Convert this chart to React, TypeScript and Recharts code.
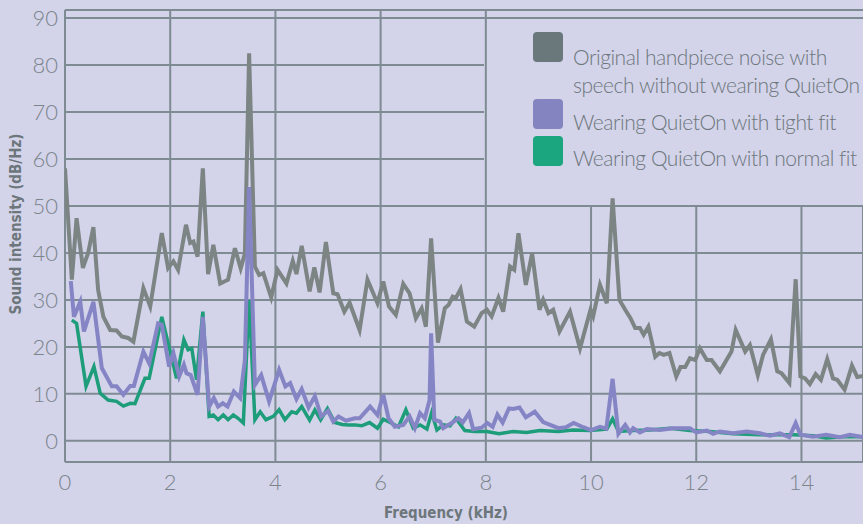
import React from "react";
import { LineChart, Line, XAxis, YAxis, CartesianGrid, Legend } from "recharts";

// frequency in kHz, intensity in dB/Hz
const grayFreq = [
  0, 0.13, 0.22, 0.34, 0.44, 0.54, 0.63, 0.73, 0.86, 0.98, 1.08, 1.2, 1.3, 1.49, 1.62, 1.84, 1.96, 2.06, 2.15, 2.3,
  2.38, 2.44, 2.52, 2.62, 2.72, 2.82, 2.95, 3.1, 3.23, 3.34, 3.42, 3.5, 3.61, 3.69, 3.77, 3.92, 4.04, 4.21, 4.33, 4.4,
  4.5, 4.65, 4.74, 4.84, 4.96, 5.1, 5.18, 5.31, 5.41, 5.6, 5.75, 5.94, 6.05, 6.16, 6.29, 6.43, 6.55, 6.67, 6.78, 6.86,
  6.96, 7.09, 7.22, 7.29, 7.37, 7.43, 7.52, 7.64, 7.78, 7.92, 8.02, 8.11, 8.24, 8.33, 8.46, 8.54, 8.62, 8.76, 8.88, 9.02,
  9.09, 9.19, 9.28, 9.4, 9.6, 9.79, 9.99, 10.04, 10.17, 10.3, 10.41, 10.54, 10.65, 10.75, 10.84, 10.93, 11, 11.09, 11.22, 11.3,
  11.38, 11.49, 11.62, 11.7, 11.79, 11.88, 11.98, 12.07, 12.2, 12.29, 12.45, 12.67, 12.75, 12.93, 13.02, 13.17, 13.27, 13.42, 13.54, 13.62,
  13.77, 13.89, 13.98, 14.07, 14.16, 14.27, 14.37, 14.49, 14.6, 14.68, 14.82, 14.96, 15.06, 15.17,
];
const grayDb = [
  58, 34.3, 47.4, 36.8, 40, 45.5, 32.1, 26.4, 23.6, 23.5, 22.2, 21.9, 21.1, 32.5, 28.6, 44.2, 36.8, 38.2, 36.4, 46,
  42.1, 42.4, 39.2, 58, 35.5, 41.7, 33.5, 34.3, 41, 36.7, 39.9, 82.5, 37.1, 35.3, 35.7, 30.5, 36.4, 33.5, 38.3, 35.5,
  41.5, 31.8, 36.9, 31.6, 42.3, 31.4, 31.2, 27.5, 29.4, 23.6, 34.3, 29.3, 33.9, 28.6, 26.8, 33.4, 31.4, 26.1, 28.2, 24.3,
  43.1, 20.9, 28.2, 28.9, 30.7, 30.4, 32.3, 25.4, 24.3, 27.2, 27.9, 26.5, 30.4, 27.5, 37.1, 36.4, 44.2, 33.2, 39.9, 27.9,
  30, 27.2, 27.9, 23.3, 27.5, 19.7, 27.9, 26.5, 33.2, 29.3, 51.6, 30, 27.9, 26.1, 24, 24, 22.6, 24.3, 17.9, 18.7,
  18.3, 18.7, 13.7, 15.7, 15.7, 17.6, 17.2, 19.7, 17.2, 17.2, 14.8, 19, 23.6, 19, 20.4, 14, 18.3, 21.6, 14.8, 14.4,
  12.3, 34.4, 13.7, 13.3, 12.1, 14.2, 13, 17.4, 13.3, 13, 10.9, 16, 13.6, 13.8,
];

const tightFreq = [
  0.11, 0.17, 0.29, 0.36, 0.54, 0.7, 0.89, 0.98, 1.11, 1.24, 1.31, 1.49, 1.6, 1.77, 1.84, 1.98, 2.06, 2.17, 2.26, 2.31,
  2.39, 2.52, 2.62, 2.74, 2.83, 2.91, 3.0, 3.09, 3.21, 3.33, 3.42, 3.5, 3.61, 3.73, 3.88, 4.07, 4.19, 4.28, 4.4, 4.5,
  4.63, 4.75, 4.87, 5.0, 5.1, 5.2, 5.34, 5.51, 5.6, 5.8, 5.94, 6.05, 6.15, 6.27, 6.43, 6.55, 6.65, 6.75, 6.84, 6.93,
  6.96, 7.02, 7.13, 7.19, 7.35, 7.48, 7.56, 7.68, 7.76, 7.92, 8.03, 8.13, 8.22, 8.32, 8.44, 8.52, 8.64, 8.76, 8.93, 9.09,
  9.38, 9.52, 9.67, 9.85, 10.0, 10.17, 10.29, 10.41, 10.52, 10.65, 10.74, 10.8, 10.93, 11.06, 11.31, 11.56, 11.88, 12.0, 12.2, 12.32,
  12.45, 12.7, 12.96, 13.21, 13.4, 13.59, 13.77, 13.89, 13.98, 14.22, 14.47, 14.73, 14.92, 15.17,
];
const tightDb = [
  34, 26.4, 29.6, 23.3, 29.6, 15.5, 11.6, 11.6, 9.8, 11.7, 11.7, 19, 16.5, 25, 24.7, 15.8, 18.7, 13.7, 16.2, 14.4,
  14, 9.8, 26.4, 7.3, 9.1, 7.3, 8, 7.3, 10.5, 9.1, 17.2, 54, 11.9, 14, 8.4, 15.1, 11.6, 12.3, 8.9, 11,
  7.1, 9.5, 5.2, 6.4, 4.1, 5.2, 4.3, 4.8, 4.8, 7.3, 5.5, 9.8, 4.8, 3, 3.4, 5.2, 2.7, 5.9, 4.8, 8.7,
  22.9, 4.5, 4.1, 2.7, 3.8, 4.8, 3.9, 5.9, 2.5, 2.8, 3.8, 3, 5.6, 3.9, 6.9, 6.8, 7.1, 5, 6.2, 4,
  2.7, 2.9, 3.8, 2.9, 2.3, 3, 2.6, 13.2, 1.5, 3.4, 1.8, 2.7, 1.8, 2.5, 2.3, 2.7, 2.7, 1.8, 2.2, 1.5,
  2, 1.6, 2, 1.6, 1.1, 1.6, 0.8, 3.8, 1.3, 0.9, 1.3, 0.8, 1.3, 0.8,
];

const normalFreq = [
  0.13, 0.22, 0.4, 0.55, 0.67, 0.82, 0.98, 1.11, 1.24, 1.33, 1.52, 1.6, 1.84, 2.0, 2.12, 2.26, 2.34, 2.41, 2.5, 2.62,
  2.74, 2.82, 2.91, 3.01, 3.1, 3.2, 3.29, 3.39, 3.5, 3.61, 3.71, 3.82, 3.96, 4.07, 4.18, 4.31, 4.4, 4.5, 4.65, 4.75,
  4.86, 4.99, 5.13, 5.27, 5.39, 5.51, 5.64, 5.79, 5.94, 6.05, 6.18, 6.34, 6.48, 6.62, 6.75, 6.88, 6.97, 7.07, 7.19, 7.32,
  7.43, 7.6, 7.79, 8.02, 8.25, 8.52, 8.77, 9.03, 9.38, 9.66, 9.98, 10.3, 10.41, 10.52, 10.8, 11.12, 11.5, 11.88, 12.26, 12.7,
  13.21, 13.5, 13.85, 14.22, 14.47, 14.84, 15.17,
];
const normalDb = [
  25.7, 25, 11.6, 15.8, 10.1, 8.7, 8.4, 7.4, 8, 7.9, 13.3, 13.3, 26.4, 19, 13.3, 21.5, 19.4, 19.7, 13, 27.5,
  5.2, 5.5, 4.5, 5.5, 4.5, 5.5, 4.8, 3.8, 30, 4.5, 6.2, 4.5, 5.2, 6.6, 4.5, 6.2, 5.9, 7.3, 4.4, 6.6,
  4.5, 6.9, 3.9, 3.5, 3.4, 3.4, 3.2, 3.9, 2.7, 4.6, 3.9, 3, 6.6, 2.7, 3.4, 2.5, 6, 2.3, 3.4, 3.2,
  4.8, 2.2, 2, 2, 1.5, 2, 1.8, 2.2, 2, 2.3, 2.2, 2.5, 4.7, 2, 2.2, 2.3, 2.7, 2.2, 2, 1.5,
  1.3, 1.3, 1.3, 1.1, 0.6, 0.9, 0.9,
];

const xTicks = [0, 2, 4, 6, 8, 10, 12, 14];
const yTicks = [0, 10, 20, 30, 40, 50, 60, 70, 80, 90];

const legendItems = [
  { color: "#6a777b", lines: ["Original handpiece noise with", "speech without wearing QuietOn"] },
  { color: "#8484c0", lines: ["Wearing QuietOn with tight fit"] },
  { color: "#1ba67f", lines: ["Wearing QuietOn with normal fit"] },
];

const BG = "#d3d3ea";
const GRID = "#7f8b92";
const TEXT = "#6d777b";

const toPoints = (fs: number[], vs: number[]) => fs.map((f, i) => ({ f, v: vs[i] }));
const grayData = toPoints(grayFreq, grayDb);
const tightData = toPoints(tightFreq, tightDb);
const normalData = toPoints(normalFreq, normalDb);

// the legend box hides grid lines in the upper right corner
const LEGEND_LEFT = 486;
const LEGEND_BOTTOM = 206;

function HLine(p: any) {
  const hidden = p.y1 > 25 && p.y1 < LEGEND_BOTTOM - 5;
  return <line key={`h-${p.index}`} x1={p.x1} x2={hidden ? LEGEND_LEFT - 2 : p.x2} y1={p.y1} y2={p.y2} stroke={GRID} strokeWidth={2} />;
}

function VLine(p: any) {
  const top = p.x1 > LEGEND_LEFT ? LEGEND_BOTTOM : p.y1;
  return <line key={`v-${p.index}`} x1={p.x1} x2={p.x2} y1={top} y2={p.y2} stroke={GRID} strokeWidth={2} />;
}

function LegendBox() {
  const swatchTops = [12, 79, 116];
  const textTops = [[23, 51], [88], [124]];
  return (
    <div
      style={{
        position: "relative",
        width: 377,
        height: 186,
        fontFamily: "Lato",
        fontWeight: 300,
        fontSize: 21,
        letterSpacing: -0.45,
        color: TEXT,
      }}
    >
      {legendItems.map((it, i) => (
        <React.Fragment key={it.color}>
          <div style={{ position: "absolute", left: 47, top: swatchTops[i], width: 30, height: 30, borderRadius: 4, background: it.color }} />
          {it.lines.map((t, j) => (
            <div key={t} style={{ position: "absolute", left: 87, top: textTops[i][j], lineHeight: "28px", whiteSpace: "nowrap" }}>
              {t}
            </div>
          ))}
        </React.Fragment>
      ))}
    </div>
  );
}

export default function App() {
  const tick = { fill: "#7b858a", fontSize: 22, fontFamily: "Lato", fontWeight: 300 };
  return (
    <div style={{ position: "absolute", left: 0, top: 0, width: 863, height: 524, background: BG, overflow: "hidden" }}>
      <LineChart width={863} height={524} margin={{ top: 10, right: 0, left: 0, bottom: 0 }}>
        <CartesianGrid horizontal={HLine} vertical={VLine} />
        <XAxis
          dataKey="f"
          type="number"
          domain={[0, 15.17]}
          ticks={xTicks}
          allowDataOverflow
          axisLine={false}
          tickLine={false}
          tickSize={0}
          tickMargin={12}
          height={62}
          tick={tick}
        />
        <YAxis
          type="number"
          domain={[-4.5, 91.7]}
          ticks={yTicks}
          allowDataOverflow
          axisLine={false}
          tickLine={false}
          tickSize={0}
          tickMargin={7}
          width={65}
          tick={tick}
        />
        <Legend
          layout="horizontal"
          verticalAlign="middle"
          align="center"
          content={<LegendBox />}
          wrapperStyle={{ position: "absolute", left: LEGEND_LEFT, top: 20, width: 377, height: 186 }}
        />
        <Line data={grayData} dataKey="v" stroke="#7d8484" strokeWidth={4} dot={false} isAnimationActive={false} />
        <Line data={normalData} dataKey="v" stroke="#1d9d79" strokeWidth={3.5} dot={false} isAnimationActive={false} />
        <Line data={tightData} dataKey="v" stroke="#8585c5" strokeWidth={4} dot={false} isAnimationActive={false} />
      </LineChart>
      <div
        style={{
          position: "absolute",
          left: 446,
          top: 513,
          transform: "translate(-50%, -50%)",
          fontFamily: "DejaVu Sans Condensed",
          fontWeight: "bold",
          fontSize: 15,
          color: TEXT,
          whiteSpace: "nowrap",
        }}
      >
        Frequency (kHz)
      </div>
      <div
        style={{
          position: "absolute",
          left: 16,
          top: 224,
          transform: "translate(-50%, -50%) rotate(-90deg)",
          fontFamily: "DejaVu Sans Condensed",
          fontWeight: "bold",
          fontSize: 15,
          color: TEXT,
          whiteSpace: "nowrap",
        }}
      >
        Sound intensity (dB/Hz)
      </div>
    </div>
  );
}
